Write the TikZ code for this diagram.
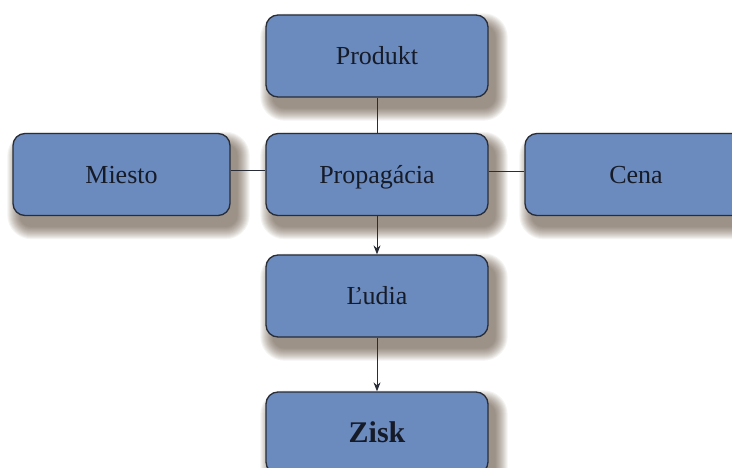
\documentclass[tikz,border=0pt]{standalone}
\usepackage{fontspec}
\setmainfont{Liberation Serif}
\usetikzlibrary{arrows.meta,backgrounds}
\definecolor{boxfill}{RGB}{107,138,190}
\definecolor{boxline}{RGB}{40,45,55}
\definecolor{txt}{RGB}{22,27,40}
\definecolor{shcol}{RGB}{75,55,35}
\newcommand\boxshadow[1]{%
  \foreach \e in {12,11,...,0}{%
    \fill[shcol, opacity=0.055, rounded corners={(12+\e)*1pt}]
      ([xshift={(7-\e)*1pt}, yshift={(-11+\e)*1pt}]#1.north west) rectangle
      ([xshift={(7+\e)*1pt}, yshift={(-11-\e)*1pt}]#1.south east);
  }}
\begin{document}
\begin{tikzpicture}[x=1pt,y=-1pt,
 box/.style={draw=boxline, line width=1.3pt, fill=boxfill, rounded corners=12pt,
   minimum width=222pt, minimum height=82pt, inner sep=0pt, text=txt,
   text height=20pt, text depth=2pt,
   font=\fontsize{26}{29}\selectfont},
 link/.style={draw=boxline, line width=1pt},
 arr/.style={link, -{Stealth[length=9pt,width=7pt]}}]
\useasboundingbox (0,0) rectangle (732,468);
\clip (0,0) rectangle (732,468);
\node[box] (p) at (377,56) {Produkt};
\node[box] (pr) at (377,174.5) {Propagácia};
\node[box, minimum width=217pt] (m) at (121.5,174.5) {Miesto};
\node[box] (c) at (636,174.5) {Cena};
\node[box] (l) at (377,296) {Ľudia};
\node[box, font=\bfseries\fontsize{30}{33}\selectfont] (z) at (377,433) {Zisk};
\begin{scope}[on background layer]
  \fill[white] (0,0) rectangle (732,468);
  \boxshadow{p}\boxshadow{pr}\boxshadow{m}\boxshadow{c}\boxshadow{l}\boxshadow{z}
\end{scope}
\draw[link] (p.south) -- (pr.north);
\draw[link] ([yshift=4pt]m.east) -- ([yshift=4pt]pr.west);
\draw[link] ([yshift=3pt]pr.east) -- ([yshift=3pt]c.west);
\draw[arr] (pr.south) -- (l.north);
\draw[arr] (l.south) -- (z.north);
\end{tikzpicture}
\end{document}
